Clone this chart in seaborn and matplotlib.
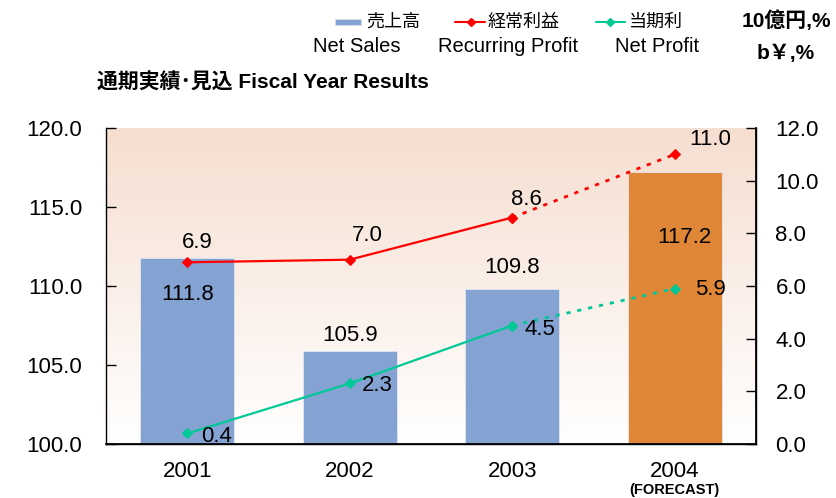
import numpy as np
import pandas as pd
import matplotlib
matplotlib.use("Agg")
import matplotlib.pyplot as plt
from matplotlib.lines import Line2D
from matplotlib.patches import Rectangle
from matplotlib.colors import LinearSegmentedColormap
import seaborn as sns

# ---- data ----
years = ["2001", "2002", "2003", "2004"]
net_sales = [111.8, 105.9, 109.8, 117.2]
recurring_profit = [6.9, 7.0, 8.6, 11.0]
net_profit = [0.4, 2.3, 4.5, 5.9]
left_ticks = [100.0, 105.0, 110.0, 115.0, 120.0]
right_ticks = [0.0, 2.0, 4.0, 6.0, 8.0, 10.0, 12.0]

sns.set_theme(style="white")
plt.rcParams['font.family'] = ['Liberation Sans', 'Noto Sans CJK JP', 'DejaVu Sans']
plt.rcParams['text.color'] = 'black'
plt.rcParams['xtick.color'] = 'black'
plt.rcParams['ytick.color'] = 'black'
plt.rcParams['xtick.labelcolor'] = 'black'
plt.rcParams['ytick.labelcolor'] = 'black'

BLUE = "#84A3D3"
ORANGE = "#DF8737"
RED = "#FF0000"
GREEN = "#00C896"
FS = 16

fig = plt.figure(figsize=(8.36, 4.98), dpi=100)
ax = fig.add_axes([0.1268, 0.1084, 0.9043 - 0.1268, 0.743 - 0.1084])

# gradient background
grad = np.linspace(0, 1, 256).reshape(-1, 1)
cmap = LinearSegmentedColormap.from_list("bg", ["#FFFFFF", "#F6DED0"])
ax.imshow(grad, extent=[0, 1, 0, 1], transform=ax.transAxes, cmap=cmap,
          aspect="auto", origin="lower", zorder=0)

df = pd.DataFrame({"year": years, "sales": net_sales})
sns.barplot(data=df, x="year", y="sales", hue="year", saturation=1,
            palette=[BLUE, BLUE, BLUE, ORANGE], width=0.58, legend=False,
            ax=ax, zorder=2, edgecolor="#E3E6EE", linewidth=0.6)
ax.set_xlim(-0.5, 3.5)
ax.set_ylim(100, 120)
ax.set_yticks(left_ticks)
ax.set_yticklabels([f"{v:.1f}" for v in left_ticks], fontsize=FS)
ax.set_xlabel("")
ax.set_ylabel("")
ax.set_xticks(range(4))
ax.set_xticklabels(years, fontsize=FS)
ax.tick_params(axis="y", direction="in", length=7, width=1, color="black", pad=17, left=True)
ax.tick_params(axis="x", length=0, pad=12)
for s in ["left", "bottom", "right"]:
    ax.spines[s].set_color("black")
    ax.spines[s].set_linewidth(1)
ax.spines["top"].set_visible(False)

# bar value labels (label centre offsets from bar top / centre)
bar_label_pos = [(0.0, -2.35), (0.0, 0.95), (0.0, 1.35), (0.06, -4.1)]
for i, v in enumerate(net_sales):
    ax.text(i + bar_label_pos[i][0], v + bar_label_pos[i][1], f"{v:.1f}",
            ha="center", va="center", fontsize=FS, zorder=5)

# profit lines
ax2 = ax.twinx()
ax2.set_ylim(0, 12)
idx = list(range(len(years)))
for vals, col in [(recurring_profit, RED), (net_profit, GREEN)]:
    sns.lineplot(x=idx[:3], y=vals[:3], ax=ax2, color=col, lw=1.6,
                 marker="D", markersize=5, markeredgecolor=col, zorder=4)
    sns.lineplot(x=idx[2:], y=vals[2:], ax=ax2, color=col, lw=2.0,
                 linestyle=(0, (1.5, 2.5)), marker="D", markersize=5,
                 markeredgecolor=col, zorder=4)
ax2.set_yticks(right_ticks)
ax2.set_yticklabels([f"{v:.1f}" for v in right_ticks], fontsize=FS)
ax2.tick_params(axis="y", direction="in", length=7, width=1, color="black", pad=14, right=True)
ax2.set_ylabel("")
for s in ["top", "left"]:
    ax2.spines[s].set_visible(False)
ax2.spines["right"].set_color("black")
ax2.spines["bottom"].set_color("black")
ax2.grid(False)
ax.grid(False)

rp_off = [(0.06, 0.77), (0.106, 0.9), (0.09, 0.67), (0.217, 0.58)]
np_off = [(0.183, -0.13), (0.168, -0.06), (0.17, -0.17), (0.217, -0.05)]
for i, v in enumerate(recurring_profit):
    ax2.text(i + rp_off[i][0], v + rp_off[i][1], f"{v:.1f}", ha="center", va="center", fontsize=FS, zorder=6)
for i, v in enumerate(net_profit):
    ax2.text(i + np_off[i][0], v + np_off[i][1], f"{v:.1f}", ha="center", va="center", fontsize=FS, zorder=6)

# forecast note
ax.text(3, -0.145, "(FORECAST)", transform=ax.get_xaxis_transform(), ha="center",
        va="center", fontsize=10.5, fontweight="bold")

# legend (drawn manually in figure pixels)
W, H = 836, 498
def fx(px): return px / W
def fy(py): return 1 - py / H

fig.add_artist(Rectangle((fx(335), fy(25)), fx(361) - fx(335), fy(19) - fy(25),
                         transform=fig.transFigure, facecolor=BLUE, edgecolor="#D9DFEC", lw=0.6))
fig.add_artist(Line2D([fx(455), fx(485)], [fy(22), fy(22)], transform=fig.transFigure,
                      color=RED, lw=1.5))
fig.add_artist(Line2D([fx(471)], [fy(22)], transform=fig.transFigure, color=RED,
                      marker="D", markersize=4))
fig.add_artist(Line2D([fx(596), fx(625)], [fy(22), fy(22)], transform=fig.transFigure,
                      color=GREEN, lw=1.5))
fig.add_artist(Line2D([fx(610)], [fy(22)], transform=fig.transFigure, color=GREEN,
                      marker="D", markersize=4))
fig.text(fx(366), fy(22), "売上高", ha="left", va="center", fontsize=13)
fig.text(fx(488), fy(22), "経常利益", ha="left", va="center", fontsize=13)
fig.text(fx(629), fy(22), "当期利", ha="left", va="center", fontsize=13)
fig.text(fx(313), fy(47), "Net Sales", ha="left", va="center", fontsize=14.5)
fig.text(fx(438), fy(47), "Recurring Profit", ha="left", va="center", fontsize=14.5)
fig.text(fx(615), fy(47), "Net Profit", ha="left", va="center", fontsize=14.5)
fig.text(fx(742), fy(21), "10億円,%", ha="left", va="center", fontsize=15, fontweight="bold")
fig.text(fx(757), fy(53), "b￥,%", ha="left", va="center", fontsize=15, fontweight="bold")
fig.text(fx(97), fy(83), "通期実績･見込 Fiscal Year Results", ha="left", va="center",
         fontsize=15, fontweight="bold")

fig.savefig("out.png", dpi=100)
